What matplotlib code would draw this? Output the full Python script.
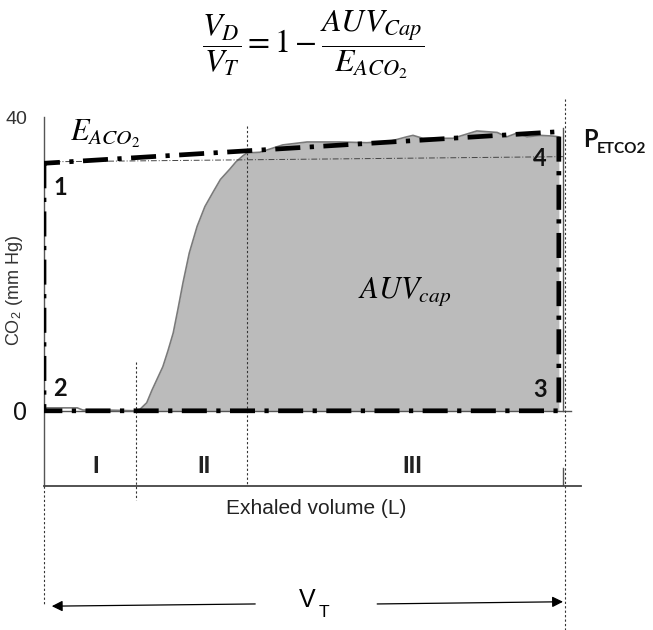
import matplotlib
matplotlib.use("Agg")
import matplotlib.pyplot as plt

plt.rcParams["mathtext.fontset"] = "stix"

# volumetric capnogram, volume in % of tidal volume, CO2 in mm Hg
vol = [0, 0.6, 3.0, 6.4, 7.5, 12.0, 17.7, 18.5, 19.8, 20.8, 22.9, 23.9, 24.9,
       25.8, 26.8, 28.0, 29.5, 31.0, 32.6, 34.0, 35.8, 37.0, 38.3, 39.1, 41.6,
       46.0, 50.7, 57.0, 62.2, 66.7, 69.9, 71.1, 73.0, 78.8, 83.4, 87.3, 89.2,
       91.1, 93.1, 95.6, 98.1, 99.2]
co2 = [0.3, 0.4, 0.4, 0.4, 0.1, 0.1, 0.0, 0.2, 1.1, 2.8, 6.0, 8.2, 10.6,
       13.8, 17.5, 21.5, 25.1, 27.8, 29.8, 31.5, 32.9, 33.9, 34.7, 35.1, 35.2,
       36.2, 36.6, 36.6, 36.5, 36.7, 37.3, 37.5, 37.1, 37.1, 38.1, 37.9, 37.3,
       37.8, 37.3, 37.5, 37.4, 37.3]
fill_start = 18.5

phase_edges = [17.7, 39.1]
phase_names = ["I", "II", "III"]
phase_mid = [10.0, 30.8, 70.9]

# E_ACO2 box: corners 1-2-3-4
box_x = [0, 0, 99.2, 99.2, 0]
box_y = [33.7, 0, 0, 38.0, 33.7]
box_names = ["1", "2", "3", "4"]
box_label_xy = [(3.1, 30.4), (3.1, 3.1), (95.6, 2.9), (95.6, 34.3)]
ref_x = [0, 100]
ref_y = [33.9, 34.6]

y_ticks = [0, 40]


def main():
    fig = plt.figure(figsize=(6.53, 6.30), dpi=100)
    ax = fig.add_axes([44 / 653, 144 / 630, 537 / 653, 369 / 630])
    ax.set_xlim(0, 103.47)
    ax.set_ylim(-10.24, 40)

    for s in ["top", "right"]:
        ax.spines[s].set_visible(False)
    ax.spines["left"].set_color("#555555")
    ax.spines["left"].set_linewidth(1.0)
    ax.spines["bottom"].set_color("#444444")
    ax.spines["bottom"].set_linewidth(1.3)
    ax.set_xticks([])
    ax.set_yticks(y_ticks)
    ax.set_yticklabels([str(t) for t in y_ticks])
    ax.tick_params(axis="y", length=0, pad=12)
    labs = ax.get_yticklabels()
    labs[0].set_fontsize(18)
    labs[0].set_color("#111111")
    labs[1].set_fontsize(14)
    labs[1].set_color("#333333")
    for lab in labs:
        lab.set_family(["Liberation Sans", "DejaVu Sans"])

    ax.set_ylabel(r"CO$_\mathregular{2}$ (mm Hg)", fontsize=13, color="#333333",
                  family=["Liberation Sans", "DejaVu Sans"])
    ax.yaxis.set_label_coords(-0.036, 0.53)

    # zero line and the right edge of the breath
    ax.plot([0, 101.5], [0, 0], color="#555555", lw=1.0, zorder=2)
    ax.plot([100, 100], [0, 38.5], color="#555555", lw=1.0, zorder=2)
    ax.plot([100, 100], [-7.8, -10.24], color="#555555", lw=1.0, zorder=2)

    # trace and area under it
    fx = [v for v in vol if v >= fill_start]
    fy = [c for v, c in zip(vol, co2) if v >= fill_start]
    ax.fill_between(fx, 0, fy, color="#bbbbbb", lw=0, zorder=1)
    ax.plot(vol, co2, color="#7a7a7a", lw=1.2, zorder=3)

    # thin reference and thick E_ACO2 box
    ax.plot(ref_x, ref_y, color="#444444", lw=0.7,
            ls=(0, (6, 2, 1, 2)), zorder=3)
    ax.plot(box_x, box_y, color="black", lw=3.4,
            ls=(0, (5.3, 2.0, 0.9, 2.0)), dash_capstyle="butt", zorder=4)

    for name, (x, y) in zip(box_names, box_label_xy):
        ax.text(x, y, name, fontsize=17, fontweight="bold", family="Lato",
                ha="center", va="center", color="#111111", zorder=5)

    # dotted guides, some run outside the axes
    dot = dict(color="#333333", lw=0.8, ls=(0, (2, 2)), clip_on=False, zorder=2)
    ax.plot([0, 0], [-10.24, -26.3], **dot)
    ax.plot([phase_edges[0]] * 2, [6.6, -12.2], **dot)
    ax.plot([phase_edges[1]] * 2, [38.8, -10.24], **dot)
    ax.plot([100.4, 100.4], [42.5, -29.9], **dot)

    for name, x in zip(phase_names, phase_mid):
        ax.text(x, -7.6, name, fontsize=17, fontweight="bold",
                family="Liberation Sans", ha="center", va="center",
                color="#222222")

    ax.text(52.4, -13.3, "Exhaled volume (L)", fontsize=15,
            family="Liberation Sans", ha="center", va="center", color="#222222")

    # tidal volume arrows
    arr = dict(arrowstyle="-|>", color="black", lw=0.9, mutation_scale=16,
               shrinkA=0, shrinkB=0)
    ax.annotate("", xy=(1.5, -26.6), xytext=(40.7, -26.3),
                arrowprops=arr, annotation_clip=False)
    ax.annotate("", xy=(100, -26.0), xytext=(64.2, -26.3),
                arrowprops=arr, annotation_clip=False)
    ax.text(50.7, -25.8, "V", fontsize=18, family="Liberation Sans",
            ha="center", va="center")
    ax.text(53.9, -27.4, "T", fontsize=12.5, family="Liberation Sans",
            ha="center", va="center")

    # annotations
    ax.text(5.0, 36.7, r"$E_{ACO_2}$", fontsize=22, ha="left", va="baseline")
    ax.text(60.5, 15.4, r"$AUV_{cap}$", fontsize=22, ha="left", va="baseline")
    ax.text(103.9, 37.0, "P", fontsize=17, fontweight="bold", family="Lato",
            ha="left", va="center", color="#111111")
    ax.text(106.6, 35.6, "ETCO2", fontsize=11, fontweight="bold", family="Lato",
            ha="left", va="center", color="#111111")

    fig.text(313 / 653, 585 / 630,
             r"$\dfrac{V_D}{V_T} = 1 - \dfrac{AUV_{Cap}}{E_{ACO_2}}$",
             fontsize=23, ha="center", va="center")

    fig.savefig("out.png", dpi=100)


if __name__ == "__main__":
    main()
